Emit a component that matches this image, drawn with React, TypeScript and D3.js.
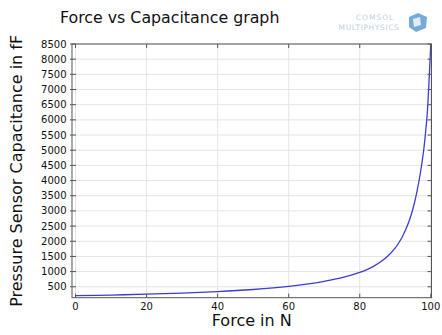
import React from "react";
import * as d3 from "d3";

// values
const force = [0, 10, 20, 30, 40, 50, 60, 65, 70, 75, 80, 82, 84, 86, 88, 90, 91, 92, 93, 94, 95, 96, 97, 98, 98.5, 99, 99.3, 99.6, 99.8, 100];
const capacitance = [206, 228, 255, 292, 340, 410, 510, 585, 680, 800, 975, 1065, 1180, 1330, 1520, 1780, 1950, 2150, 2400, 2700, 3080, 3580, 4200, 5000, 5550, 6200, 6800, 7500, 8000, 8500];

const xTicks = [0, 20, 40, 60, 80, 100];
const yTicks = [500, 1000, 1500, 2000, 2500, 3000, 3500, 4000, 4500, 5000, 5500, 6000, 6500, 7000, 7500, 8000, 8500];

const title = "Force vs Capacitance graph";
const xLabel = "Force in N";
const yLabel = "Pressure Sensor Capacitance in fF";

const W = 442;
const H = 335;
const plot = { left: 72, right: 431.5, top: 44, bottom: 297.7 };
const font = "'DejaVu Sans', sans-serif";
const frame = "#555";
const grid = "#e4e4e4";

export default function App() {
  const x = d3.scaleLinear().domain([-1, 100.2]).range([plot.left, plot.right]);
  const y = d3.scaleLinear().domain([140, 8500]).range([plot.bottom, plot.top]);

  const points = force.map((f, i) => [f, capacitance[i]] as [number, number]);
  const line = d3
    .line<[number, number]>()
    .x(d => x(d[0]))
    .y(d => y(d[1]))
    .curve(d3.curveCatmullRom.alpha(0.5));

  const tick = 4;

  return (
    <svg
      width={W}
      height={H}
      style={{ position: "absolute", left: 0, top: 0, background: "#fff" }}
      fontFamily={font}
    >
      <rect width={W} height={H} fill="#fff" />

      {/* title */}
      <text x={60} y={23} fontSize={15.8} fill="#111">{title}</text>

      {/* logo */}
      <g opacity={0.75}>
        <text x={375} y={20} fontSize={7.5} fill="#a8c2d8" textAnchor="middle" letterSpacing={1}>COMSOL</text>
        <text x={369} y={30} fontSize={7.5} fill="#a8c2d8" textAnchor="middle" letterSpacing={0.6}>MULTIPHYSICS</text>
        <path d="M409,17 L418,13 L427,17 L426,28 L416,32 L409,27 Z" fill="#4a8fc9" />
        <path d="M413,19 L420,17 L421,25 L414,27 Z" fill="#d6e7f5" />
      </g>

      {/* grid */}
      {xTicks.map(t => (
        <line key={"gx" + t} x1={x(t)} x2={x(t)} y1={plot.top} y2={plot.bottom} stroke={grid} strokeWidth={1} />
      ))}
      {yTicks.map(t => (
        <line key={"gy" + t} x1={plot.left} x2={plot.right} y1={y(t)} y2={y(t)} stroke={grid} strokeWidth={1} />
      ))}

      {/* curve */}
      <path d={line(points) || ""} fill="none" stroke="#3b3bd6" strokeWidth={1.3} />

      {/* frame */}
      <rect
        x={plot.left}
        y={plot.top}
        width={plot.right - plot.left}
        height={plot.bottom - plot.top}
        fill="none"
        stroke={frame}
        strokeWidth={1}
      />

      {/* ticks */}
      {xTicks.map(t => (
        <g key={"tx" + t}>
          <line x1={x(t)} x2={x(t)} y1={plot.bottom} y2={plot.bottom - tick} stroke={frame} />
          <line x1={x(t)} x2={x(t)} y1={plot.top} y2={plot.top + tick} stroke={frame} />
          <text x={x(t)} y={310} fontSize={10} textAnchor="middle" fill="#111">{t}</text>
        </g>
      ))}
      {yTicks.map(t => (
        <g key={"ty" + t}>
          <line x1={plot.left - 2} x2={plot.left + tick} y1={y(t)} y2={y(t)} stroke={frame} />
          <line x1={plot.right} x2={plot.right - tick} y1={y(t)} y2={y(t)} stroke={frame} />
          <text x={66.5} y={y(t) + 3.5} fontSize={10} textAnchor="end" fill="#111">{t}</text>
        </g>
      ))}

      {/* axis titles */}
      <text x={(plot.left + plot.right) / 2} y={326} fontSize={16} textAnchor="middle" fill="#111">{xLabel}</text>
      <text
        transform={`translate(22, ${(plot.top + plot.bottom) / 2}) rotate(-90)`}
        fontSize={16}
        textAnchor="middle"
        fill="#111"
      >
        {yLabel}
      </text>
    </svg>
  );
}
